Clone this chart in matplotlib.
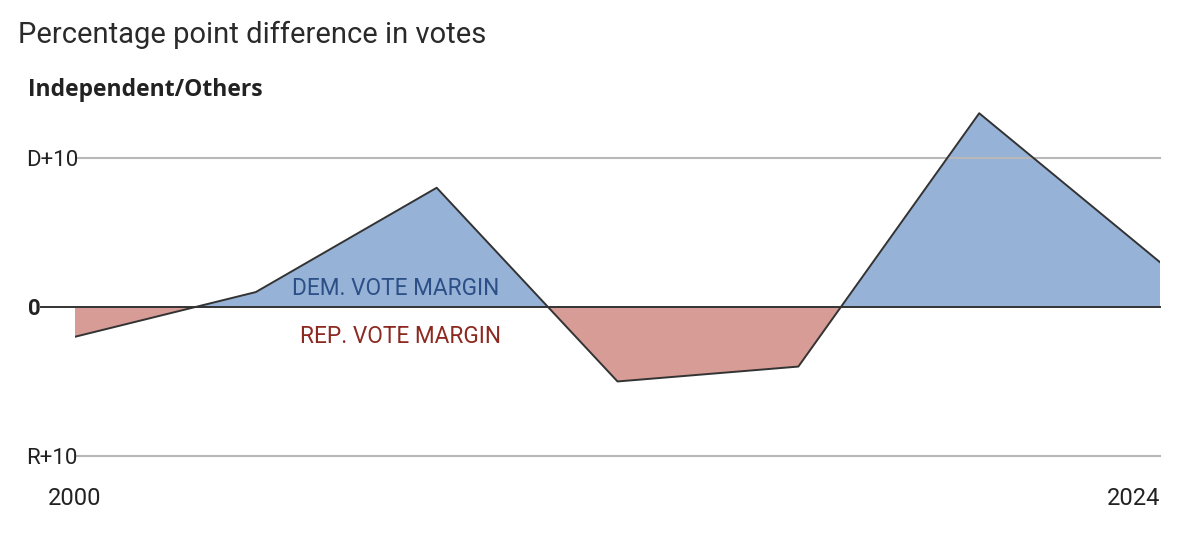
import numpy as np
import matplotlib
matplotlib.use('Agg')
import matplotlib.pyplot as plt

# election years and Dem minus Rep margin (percentage points)
years = np.array([2000, 2004, 2008, 2012, 2016, 2020, 2024])
margin = np.array([-2.0, 1.0, 8.0, -5.0, -4.0, 13.0, 3.0])

tick_vals = [10, 0, -10]
tick_labels = ['D+10', '0', 'R+10']

blue_fill = '#97b2d7'
red_fill = '#d69c95'
line_col = '#333333'
grid_col = '#b8b8b8'
text_col = '#222222'

plt.rcParams['font.family'] = ['Roboto', 'DejaVu Sans']

fig = plt.figure(figsize=(12, 5.33), dpi=100)
ax = fig.add_axes([0.0625, 0.1445, 0.9042, 0.671])

ax.fill_between(years, margin, 0, where=margin >= 0, interpolate=True,
                color=blue_fill, linewidth=0, zorder=1)
ax.fill_between(years, margin, 0, where=margin <= 0, interpolate=True,
                color=red_fill, linewidth=0, zorder=1)
ax.plot(years, margin, color=line_col, lw=1.4, zorder=4)

# gridlines
for v in (10, -10):
    ax.plot([2000.05, 2024], [v, v], color=grid_col, lw=1.5, zorder=2, clip_on=False)
ax.plot([1999.25, 2024], [0, 0], color=line_col, lw=1.4, zorder=3, clip_on=False)

ax.set_xlim(2000, 2024)
ax.set_ylim(-10, 14)
ax.axis('off')

# y labels
ytr = ax.get_yaxis_transform()
for v, lab in zip(tick_vals, tick_labels):
    if lab == '0':
        ax.text(-0.0435, v, lab, transform=ytr, ha='left', va='center_baseline',
                fontsize=16, fontweight='bold', color=text_col)
    else:
        ax.text(-0.0455, v, lab, transform=ytr, ha='left', va='center_baseline',
                fontsize=16, color=text_col)

# x labels
ax.text(years[0], -12.7, str(years[0]), ha='center', va='center_baseline',
        fontsize=17, color=text_col)
ax.text(years[-1], -12.7, str(years[-1]), ha='right', va='center_baseline',
        fontsize=17, color=text_col)

# series labels
ax.text(2007.1, 1.4, 'DEM. VOTE MARGIN', ha='center', va='center_baseline',
        fontsize=16.3, color='#2b4f86')
ax.text(2007.2, -1.8, 'REP. VOTE MARGIN', ha='center', va='center_baseline',
        fontsize=16.3, color='#8c2a22')

fig.text(0.015, 0.935, 'Percentage point difference in votes', ha='left', va='center',
         fontsize=21, color='#2a2a2a')
fig.text(0.023, 0.832, 'Independent/Others', ha='left', va='center',
         fontsize=16.5, family=['Open Sans', 'Roboto'], fontweight='bold', color=text_col)

fig.savefig('out.png', dpi=100)
